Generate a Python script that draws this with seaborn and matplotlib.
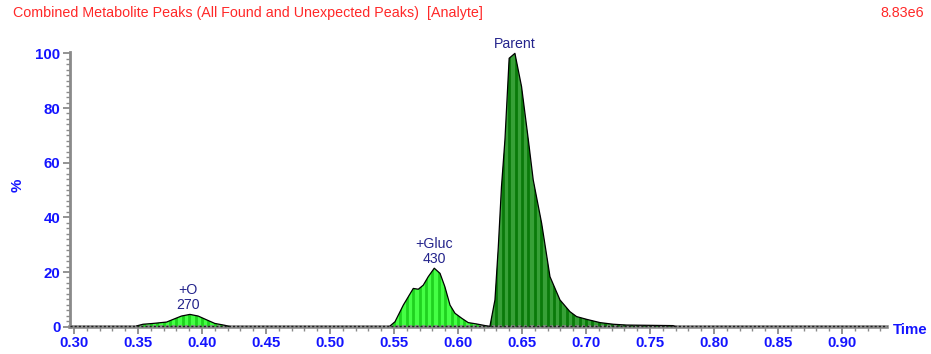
import numpy as np
import pandas as pd
import seaborn as sns
import matplotlib.pyplot as plt
from matplotlib.ticker import MultipleLocator
from matplotlib.patches import Polygon

# Chromatogram traces (retention time in min, relative intensity in %)
o_time = [0.349, 0.354, 0.362, 0.3724, 0.3776, 0.384, 0.3906, 0.397, 0.4037, 0.410, 0.418, 0.422]
o_pct = [0.3, 0.9, 1.2, 1.7, 2.7, 3.9, 4.5, 3.9, 2.5, 1.2, 0.5, 0.0]

gluc_time = [0.547, 0.5508, 0.5573, 0.5651, 0.569, 0.5729, 0.5768, 0.5815, 0.586, 0.5898,
             0.5938, 0.5977, 0.6029, 0.608, 0.6146, 0.6224, 0.6245]
gluc_pct = [0.3, 1.8, 7.9, 14.0, 13.7, 15.2, 18.3, 21.4, 19.5, 14.6,
            7.9, 4.9, 3.1, 1.5, 1.0, 0.3, 0.0]

parent_time = [0.6248, 0.625, 0.6289, 0.6315, 0.634, 0.6367, 0.640, 0.6445, 0.6497, 0.655,
               0.6588, 0.6654, 0.6719, 0.6797, 0.6875, 0.6927, 0.7005, 0.711, 0.7213,
               0.7318, 0.750, 0.768, 0.770]
parent_pct = [0.0, 0.2, 9.8, 29.0, 51.2, 68.3, 98.2, 100.0, 87.8, 68.3,
              53.7, 37.8, 18.3, 9.8, 5.5, 3.7, 2.7, 1.5, 0.9,
              0.6, 0.5, 0.4, 0.0]

peak_labels = ["+O\n270", "+Gluc\n430", "Parent"]
title_text = "Combined Metabolite Peaks (All Found and Unexpected Peaks)  [Analyte]"
scale_text = "8.83e6"
x_ticks = [0.30, 0.35, 0.40, 0.45, 0.50, 0.55, 0.60, 0.65, 0.70, 0.75, 0.80, 0.85, 0.90]
y_ticks = [0, 20, 40, 60, 80, 100]

sns.set_theme(style="white")
plt.rcParams['font.family'] = ['Liberation Sans', 'DejaVu Sans']

fig = plt.figure(figsize=(9.31, 3.54), dpi=100)
ax = fig.add_axes([70 / 931, 27.3 / 354, 817 / 931, 275 / 354])

blue = '#1414ff'
navy = '#24248c'
axis_grey = '#8a8a8a'

xmin, xmax = 0.2969, 0.9352
ymin, ymax = 0.0, 100.6


def striped_peak(t, y, base, stripe, step=0.005):
    df = pd.DataFrame({"Time": t, "pct": y})
    verts = [(t[0], 0)] + list(zip(t, y)) + [(t[-1], 0)]
    poly = Polygon(verts, closed=True, facecolor=base, edgecolor='none', zorder=2)
    ax.add_patch(poly)
    xs = np.arange(np.floor(t[0] / step) * step, t[-1] + step, step)
    lines = ax.vlines(xs, 0, max(y) + 1, colors=stripe, linewidth=2.0, zorder=3)
    lines.set_clip_path(poly)
    sns.lineplot(data=df, x="Time", y="pct", ax=ax, color='black', linewidth=0.9,
                 estimator=None, sort=False, zorder=4)


# flat baseline trace across the run
ax.plot([xmin, xmax], [0.15, 0.15], color='#222222', linewidth=1.0, linestyle=(0, (1.5, 1.5)),
        zorder=5, clip_on=False)

striped_peak(o_time, o_pct, '#44ff44', '#1fd21f')
striped_peak(gluc_time, gluc_pct, '#44ff44', '#1fd21f')
striped_peak(parent_time, parent_pct, '#37a037', '#0a7a0a')

# peak annotations
ax.text(0.389, 5.3, peak_labels[0], ha='center', va='bottom', color=navy, fontsize=10.2,
        linespacing=1.1)
ax.text(0.5815, 22.3, peak_labels[1], ha='center', va='bottom', color=navy, fontsize=10.2,
        linespacing=1.1)
ax.text(0.6445, 101.0, peak_labels[2], ha='center', va='bottom', color=navy, fontsize=10.2,
        clip_on=False)

ax.set_xlim(xmin, xmax)
ax.set_ylim(ymin, ymax)
ax.set_xticks(x_ticks)
ax.set_xticklabels([f"{v:.2f}" for v in x_ticks])
ax.set_yticks(y_ticks)
ax.set_yticklabels([str(v) for v in y_ticks])
ax.xaxis.set_minor_locator(MultipleLocator(0.01))
ax.yaxis.set_minor_locator(MultipleLocator(2))

for side in ['top', 'right']:
    ax.spines[side].set_visible(False)
ax.spines['left'].set_color(axis_grey)
ax.spines['left'].set_linewidth(2.0)
ax.spines['bottom'].set_color(axis_grey)
ax.spines['bottom'].set_linewidth(2.6)

ax.tick_params(axis='both', which='major', direction='out', length=5, width=1.3,
               color=axis_grey, labelcolor=blue, labelsize=10.8, pad=2,
               bottom=True, left=True)
ax.tick_params(axis='both', which='minor', direction='out', length=3, width=1.0,
               color=axis_grey, bottom=True, left=True)
for lab in ax.get_xticklabels() + ax.get_yticklabels():
    lab.set_fontweight('bold')

ax.set_xlabel("")
ax.set_ylabel("")
fig.text(18 / 931, 1 - 185 / 354, "%", rotation=90, color=blue, fontsize=10.8,
         fontweight='bold', ha='center', va='center')
fig.text(893 / 931, 1 - 330 / 354, "Time", color=blue, fontsize=10.8,
         fontweight='bold', ha='left', va='center')

fig.text(13 / 931, 1 - 13 / 354, title_text, color='#ff2828', fontsize=10.3,
         ha='left', va='center')
fig.text(924 / 931, 1 - 13 / 354, scale_text, color='#ff2828', fontsize=10.3,
         ha='right', va='center')

fig.savefig("out.png", dpi=100, facecolor='white')
